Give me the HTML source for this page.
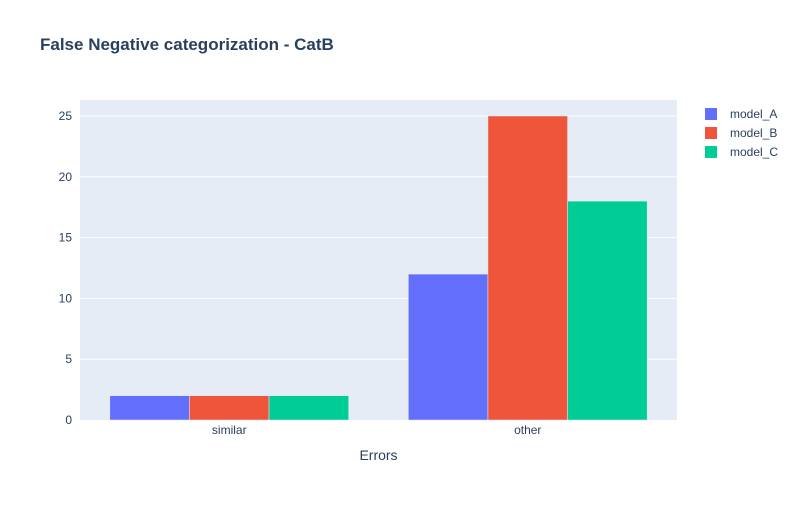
<!DOCTYPE html>
<html><head><meta charset="utf-8"><style>
body{margin:0;background:#fff;font-family:"Liberation Sans",Arial,sans-serif;}
svg text{font-family:"Liberation Sans",Arial,sans-serif;}
</style></head><body>
<svg id="chart" width="800" height="500">
<rect x="0" y="0" width="800" height="500" fill="#fff"/>
<text x="40" y="50" font-size="17" font-weight="bold" fill="#2a3f5f">False Negative categorization - CatB</text>
<rect x="80" y="100" width="597" height="320" fill="#e5ecf6"/>
<g id="grid"></g>
<g id="bars"></g>
<g id="xticks"></g>
<text x="378.5" y="460" font-size="14" fill="#2a3f5f" text-anchor="middle">Errors</text>
<g id="legend"></g>
</svg>
<script>
const categories = ["similar", "other"];
const seriesNames = ["model_A", "model_B", "model_C"];
const seriesColors = ["#636efa", "#EF553B", "#00cc96"];
const valuesA = [2, 12];
const valuesB = [2, 25];
const valuesC = [2, 18];
const yTicks = [0, 5, 10, 15, 20, 25];

const series = [valuesA, valuesB, valuesC];
const X0 = 80, X1 = 677, Y0 = 420, Y1 = 100, YMAX = 26.316;
const ns = "http://www.w3.org/2000/svg";
function yScale(v){ return Y0 - (v / YMAX) * (Y0 - Y1); }
const band = (X1 - X0) / categories.length;
function xCenter(i){ return X0 + band * (i + 0.5); }
function mk(tag, attrs, parent){ const e = document.createElementNS(ns, tag); for (const k in attrs) e.setAttribute(k, attrs[k]); parent.appendChild(e); return e; }

const grid = document.getElementById('grid');
yTicks.forEach(t => {
  const y = yScale(t);
  if (t > 0) {
    const l = mk('line', {x1: X0, x2: X1, y1: y, y2: y, stroke: '#fff', 'stroke-width': 1}, grid);
    
    
  }
  const tx = mk('text', {x: X0 - 8, y: y + 4, 'font-size': 12, fill: '#2a3f5f', 'text-anchor': 'end'}, grid);
  tx.textContent = t;
  
  
});

const bars = document.getElementById('bars');
const groupW = band * 0.8, barW = groupW / series.length;
categories.forEach((c, i) => {
  series.forEach((vals, s) => {
    const x = xCenter(i) - groupW / 2 + s * barW;
    const y = yScale(vals[i]);
    const r = mk('rect', {x: x, y: y, width: barW, height: Y0 - y, fill: seriesColors[s], stroke: '#e5ecf6', 'stroke-width': 0.5}, bars);
    
    
  });
  const tx = mk('text', {x: xCenter(i), y: 434, 'font-size': 12, fill: '#2a3f5f', 'text-anchor': 'middle'}, document.getElementById('xticks'));
  tx.textContent = c;
  
  
});

const legend = document.getElementById('legend');
seriesNames.forEach((n, s) => {
  const y = 114 + s * 19;
  const g = mk('g', {}, legend);
  
  
  mk('rect', {x: 705, y: y - 6, width: 12, height: 12, fill: seriesColors[s]}, g);
  const t = mk('text', {x: 730, y: y + 4, 'font-size': 12, fill: '#2a3f5f'}, g);
  t.textContent = n;
});
</script>
</body></html>
